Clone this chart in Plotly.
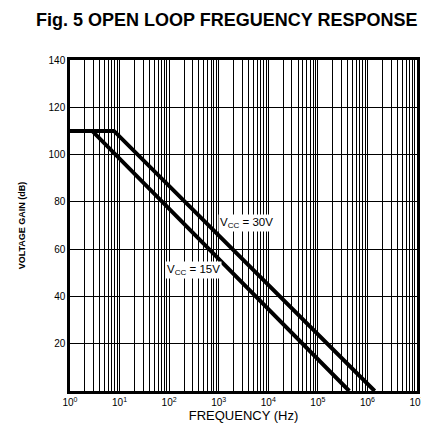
import plotly.graph_objects as go

# Data
freq_15v = [1, 2.8, 4.3e5]
gain_15v = [110, 110, 0]
freq_30v = [1, 7.7, 1.4e6]
gain_30v = [110, 110, 0]

x_tickvals = [1, 10, 100, 1e3, 1e4, 1e5, 1e6, 1e7]
x_ticktext = ["10<sup>0</sup>", "10<sup>1</sup>", "10<sup>2</sup>", "10<sup>3</sup>",
              "10<sup>4</sup>", "10<sup>5</sup>", "10<sup>6</sup>", "10<sup>7</sup>"]
y_tickvals = [20, 40, 60, 80, 100, 120, 140]

fig = go.Figure()
fig.add_trace(go.Scatter(x=freq_15v, y=gain_15v, mode="lines",
                         line=dict(color="black", width=4), showlegend=False))
fig.add_trace(go.Scatter(x=freq_30v, y=gain_30v, mode="lines",
                         line=dict(color="black", width=4), showlegend=False))

fig.add_annotation(x=3.57, y=71, text="V<sub>CC</sub> = 30V", showarrow=False,
                   font=dict(family="Liberation Sans, Arial", size=11.5, color="black"),
                   bgcolor="white")
fig.add_annotation(x=2.5, y=51, text="V<sub>CC</sub> = 15V", showarrow=False,
                   font=dict(family="Liberation Sans, Arial", size=11.5, color="black"),
                   bgcolor="white")

fig.update_layout(
    width=429, height=424,
    margin=dict(l=62, r=18, t=52, b=41),
    paper_bgcolor="white", plot_bgcolor="white",
    title=dict(text="<b>Fig. 5 OPEN LOOP FREGUENCY RESPONSE</b>",
               x=0.51, xanchor="center", y=0.972, yanchor="middle",
               font=dict(family="Liberation Sans, Arial", size=18, color="black")),
    font=dict(family="Liberation Sans, Arial", color="black"),
)
fig.update_xaxes(type="log", range=[0, 7], tickvals=x_tickvals, ticktext=x_ticktext,
                 ticks="", showgrid=True, gridcolor="black", gridwidth=1.2,
                 minor=dict(showgrid=True, gridcolor="black", gridwidth=0.7, dtick="D1", ticks=""),
                 showline=True, linecolor="black", linewidth=2.5, mirror=True,
                 tickfont=dict(size=10, color="black"),
                 title=dict(text="FREQUENCY (Hz)", font=dict(size=13, color="black"), standoff=0),
                 zeroline=False)
fig.update_yaxes(range=[0, 140], tickvals=y_tickvals, ticks="",
                 showgrid=True, gridcolor="black", gridwidth=1.2,
                 showline=True, linecolor="black", linewidth=2.5, mirror=True,
                 tickfont=dict(size=10, color="black"),
                 title=dict(text="<b>VOLTAGE GAIN (dB)</b>", font=dict(size=9, color="black"), standoff=22),
                 zeroline=False)

fig.write_html("out.html")
